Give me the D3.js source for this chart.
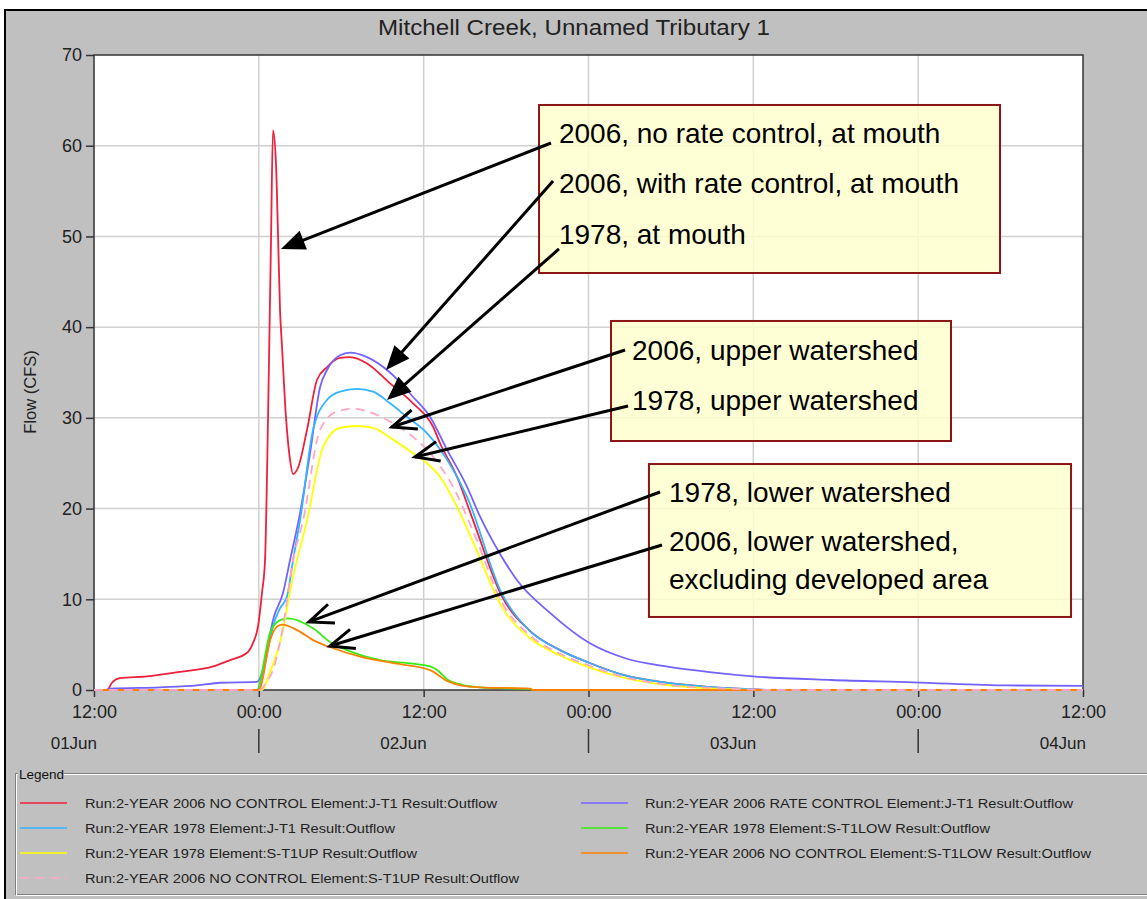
<!DOCTYPE html>
<html>
<head>
<meta charset="utf-8">
<script src="https://cdn.jsdelivr.net/npm/d3@7"></script>
<style>
  html, body { margin: 0; padding: 0; background: #ffffff; }
  svg { display: block; font-family: "Liberation Sans", Arial, sans-serif; }
</style>
</head>
<body>
<svg id="chart" width="1147" height="899"></svg>
<script>
// ---------------- DATA ----------------
// time axis: hours since 12:00 on 01Jun
const chartTitle = "Mitchell Creek, Unnamed Tributary 1";
const yAxisLabel = "Flow (CFS)";
const yTicks = [0, 10, 20, 30, 40, 50, 60, 70];
const xTickHours = [0, 12, 24, 36, 48, 60, 72];
const xTickLabels = ["12:00", "00:00", "12:00", "00:00", "12:00", "00:00", "12:00"];
const dayLabelHours = [0, 24, 48, 72];
const dayLabels = ["01Jun", "02Jun", "03Jun", "04Jun"];
const daySeparatorHours = [12, 36, 60];

const redHours   = [0, 0.95, 1.31, 1.89, 3.86, 6.26, 8.67, 9.90, 11.14, 11.58, 11.94, 12.23, 12.45, 12.67, 12.89, 13.03, 13.25, 13.40, 13.54, 13.69, 13.91, 14.27, 14.49, 14.85, 15.51, 16.24, 16.97, 17.91, 18.64, 19.88, 21.55, 23.23, 24.69, 25.19, 26.43, 27.60, 29.64, 31.75, 33.93, 36.04, 38.67, 41.65, 44.64, 47.62, 49.2, 72];
const redValues  = [0, 0, 0.8, 1.3, 1.5, 2.0, 2.6, 3.3, 4.1, 5.2, 7.0, 10.7, 14.3, 30, 50, 61.7, 58, 50, 42, 37.8, 31.6, 25.4, 23.8, 24.5, 28.7, 34.2, 35.6, 36.6, 36.7, 36.0, 33.8, 31.6, 29.0, 27.2, 23.5, 18.7, 10.5, 6.5, 4.4, 3.0, 1.6, 0.8, 0.35, 0.1, 0, 0];

const rateHours  = [0, 0.80, 1.17, 4.81, 7.50, 9.17, 11.87, 12.23, 12.67, 13.03, 13.76, 14.27, 15.0, 15.73, 16.46, 16.97, 17.91, 18.64, 19.88, 21.55, 23.23, 24.47, 25.70, 27.16, 28.11, 29.56, 30.80, 33.20, 36.04, 38.67, 41.65, 44.64, 47.99, 53.67, 59.64, 66.56, 72];
const rateValues = [0, 0, 0.15, 0.3, 0.5, 0.8, 0.9, 1.9, 5.0, 7.7, 10.7, 14.3, 19.5, 26.1, 33.4, 35.3, 36.9, 37.2, 36.7, 35.0, 32.3, 30.1, 26.5, 22.4, 19.1, 15.0, 12.1, 8.5, 5.2, 3.5, 2.6, 2.0, 1.5, 1.1, 0.85, 0.5, 0.45];

const cyanHours  = [0, 11.87, 12.23, 12.67, 13.03, 13.54, 14.05, 14.49, 15.0, 15.95, 16.97, 17.91, 19.15, 20.32, 21.55, 22.79, 24.25, 25.70, 27.16, 29.64, 31.75, 33.93, 36.04, 38.67, 41.65, 44.64, 48.5, 49.2, 72];
const cyanValues = [0, 0, 1.5, 4.5, 7.0, 9.0, 10.3, 14.3, 18.7, 28.7, 32.0, 32.9, 33.2, 32.9, 31.6, 30.1, 28.3, 25.4, 21.3, 10.8, 6.5, 4.4, 3.0, 1.6, 0.8, 0.35, 0.05, 0, 0];

const lowHours   = [0, 11.94, 12.23, 12.82, 13.54, 14.13, 15.95, 17.18, 18.42, 20.83, 23.23, 24.47, 24.98, 25.70, 26.87, 28.11, 29.56, 31.9];
const lowValues  = [0, 0, 2.0, 6.3, 7.7, 7.9, 6.8, 5.3, 4.4, 3.3, 2.9, 2.6, 2.2, 1.2, 0.55, 0.3, 0.2, 0.1];

const upHours    = [0, 12.23, 12.82, 13.54, 14.49, 15.51, 16.68, 17.91, 19.15, 20.32, 21.77, 23.23, 24.25, 25.19, 26.43, 27.74, 29.64, 31.75, 33.93, 36.04, 38.67, 41.65, 44.64, 47.0, 48.5, 72];
const upValues   = [0, 0, 2.0, 5.2, 12.5, 18.7, 26.8, 28.9, 29.1, 28.9, 27.6, 26.1, 25.0, 23.5, 20.2, 15.8, 9.3, 5.7, 3.8, 2.5, 1.3, 0.55, 0.2, 0.05, 0, 0];

const lowNcHours  = [0, 11.94, 12.09, 12.82, 13.33, 13.69, 14.78, 15.95, 17.40, 19.59, 22.06, 24.47, 25.70, 26.87, 28.11, 31.75, 31.9, 72];
const lowNcValues = [0, 0, 0.2, 5.5, 7.0, 7.2, 6.6, 5.5, 4.6, 3.6, 2.9, 2.2, 1.0, 0.45, 0.3, 0.15, 0, 0];

const upNcHours  = [0, 12.09, 12.52, 13.03, 13.76, 14.49, 15.22, 16.46, 17.69, 18.86, 20.32, 21.77, 23.23, 24.69, 26.14, 27.74, 29.64, 31.75, 33.93, 36.04, 38.67, 41.65, 44.64, 47.77, 49.2, 72];
const upNcValues = [0, 0, 0.8, 2.2, 7.0, 14.3, 18.7, 28.7, 30.7, 31.0, 30.5, 29.4, 27.9, 25.7, 22.4, 17.0, 9.8, 6.0, 4.0, 2.7, 1.4, 0.6, 0.25, 0.05, 0, 0];

const seriesNames = [
  "Run:2-YEAR 2006 NO CONTROL Element:J-T1 Result:Outflow",
  "Run:2-YEAR 2006 RATE CONTROL Element:J-T1 Result:Outflow",
  "Run:2-YEAR 1978 Element:J-T1 Result:Outflow",
  "Run:2-YEAR 1978 Element:S-T1LOW Result:Outflow",
  "Run:2-YEAR 1978 Element:S-T1UP Result:Outflow",
  "Run:2-YEAR 2006 NO CONTROL Element:S-T1LOW Result:Outflow",
  "Run:2-YEAR 2006 NO CONTROL Element:S-T1UP Result:Outflow"
];
const seriesColors = ["#f0203c", "#7462ff", "#33b4ff", "#33ee11", "#ffff00", "#ff8000", "#ffa6c4"];
const seriesDashed = [false, false, false, false, false, false, true];
const seriesHours  = [redHours, rateHours, cyanHours, lowHours, upHours, lowNcHours, upNcHours];
const seriesValues = [redValues, rateValues, cyanValues, lowValues, upValues, lowNcValues, upNcValues];
// legend layout order: left column then right column
const legendLeft  = [0, 2, 4, 6];
const legendRight = [1, 3, 5];

// annotation boxes (in data units: hours, cfs)
const boxHours0 = [32.40, 37.64, 40.40];
const boxHours1 = [65.96, 62.39, 71.13];
const boxValTop = [64.49, 40.68, 24.91];
const boxValBot = [45.97, 27.45, 8.05];
const noteTexts = ["2006, no rate control, at mouth", "2006, with rate control, at mouth", "1978, at mouth",
                   "2006, upper watershed", "1978, upper watershed",
                   "1978, lower watershed", "2006, lower watershed,", "excluding developed area"];
const noteHours = [33.85, 33.85, 33.85, 39.17, 39.17, 41.86, 41.86, 41.86];
const noteVals  = [60.30, 54.79, 49.17, 36.38, 30.87, 20.73, 15.32, 11.13];
// arrows: start (hours, cfs) -> tip (hours, cfs)
const arrowFromH = [33.27, 33.42, 33.85, 38.66, 38.88, 41.21, 41.35];
const arrowFromV = [60.30, 56.11, 48.62, 37.48, 31.31, 21.83, 15.99];
const arrowToH   = [13.61, 21.26, 21.33, 21.69, 23.37, 15.65, 17.18];
const arrowToV   = [48.62, 35.28, 31.97, 28.99, 25.69, 7.50, 4.85];
const arrowFilled = [true, true, true, false, false, false, false];

// ---------------- DRAW ----------------
const svg = d3.select("#chart");
const W = 1147, H = 899;
const plot = {left: 94, right: 1083, top: 55, bottom: 690};

const x = d3.scaleLinear().domain([0, 72]).range([plot.left, plot.right]);
const y = d3.scaleLinear().domain([0, 70]).range([plot.bottom, plot.top]);

// panel background
svg.append("rect").attr("x", 0).attr("y", 0).attr("width", W).attr("height", H).attr("fill", "#ffffff");
svg.append("rect").attr("x", 5).attr("y", 10).attr("width", W + 20).attr("height", H + 20)
  .attr("fill", "#c0c0c0").attr("stroke", "#000").attr("stroke-width", 2);

// title
svg.append("text").attr("x", 574).attr("y", 35).attr("text-anchor", "middle")
  .attr("font-size", 22).attr("fill", "#222")
  .attr("textLength", 392).attr("lengthAdjust", "spacingAndGlyphs")
  .text(chartTitle);

// plot area
svg.append("rect").attr("x", plot.left).attr("y", plot.top)
  .attr("width", plot.right - plot.left).attr("height", plot.bottom - plot.top).attr("fill", "#ffffff");

// grid
const grid = svg.append("g").attr("stroke", "#d0d0d0").attr("stroke-width", 1.5);
yTicks.filter(v => v > 0 && v < 70).forEach(v => {
  grid.append("line").attr("x1", plot.left).attr("x2", plot.right).attr("y1", y(v)).attr("y2", y(v));
});
xTickHours.filter(h => h > 0 && h < 72).forEach(h => {
  grid.append("line").attr("x1", x(h)).attr("x2", x(h)).attr("y1", plot.top).attr("y2", plot.bottom);
});

// frame
svg.append("rect").attr("x", plot.left).attr("y", plot.top)
  .attr("width", plot.right - plot.left).attr("height", plot.bottom - plot.top)
  .attr("fill", "none").attr("stroke", "#333").attr("stroke-width", 1.5);

// y axis
const yAxis = d3.axisLeft(y).tickValues(yTicks).tickSize(8).tickPadding(4).tickFormat(d3.format("d"));
const gy = svg.append("g").attr("transform", `translate(${plot.left},0)`).call(yAxis);
gy.select(".domain").remove();
gy.selectAll(".tick line").attr("stroke", "#333").attr("stroke-width", 1.5);
gy.selectAll(".tick text").attr("font-size", 18).attr("fill", "#222").attr("font-family", "Liberation Sans, Arial, sans-serif");

// x axis
const xAxis = d3.axisBottom(x).tickValues(xTickHours).tickSize(7).tickPadding(8)
  .tickFormat((d, i) => xTickLabels[i]);
const gx = svg.append("g").attr("transform", `translate(0,${plot.bottom})`).call(xAxis);
gx.select(".domain").remove();
gx.selectAll(".tick line").attr("stroke", "#333").attr("stroke-width", 1.5);
gx.selectAll(".tick text").attr("font-size", 18).attr("fill", "#222").attr("font-family", "Liberation Sans, Arial, sans-serif");

// day labels & separators
dayLabels.forEach((lab, i) => {
  svg.append("text").attr("x", x(dayLabelHours[i]) + 3).attr("y", 749)
    .attr("text-anchor", "end").attr("font-size", 17).attr("fill", "#222").text(lab);
});
daySeparatorHours.forEach(h => {
  svg.append("line").attr("x1", x(h)).attr("x2", x(h)).attr("y1", 729).attr("y2", 753)
    .attr("stroke", "#333").attr("stroke-width", 1.5);
});

// y axis title
svg.append("text").attr("transform", "translate(36,392) rotate(-90)")
  .attr("text-anchor", "middle").attr("font-size", 16.5).attr("fill", "#222").text(yAxisLabel);

// series
const line = d3.line().x(d => x(d[0])).y(d => y(d[1])).curve(d3.curveMonotoneX);
const seriesG = svg.append("g");
seriesNames.forEach((name, i) => {
  const pts = seriesHours[i].map((h, k) => [h, seriesValues[i][k]]);
  seriesG.append("path").datum(pts).attr("d", line)
    .attr("fill", "none").attr("stroke", seriesColors[i]).attr("stroke-width", 1.8)
    .attr("stroke-linejoin", "round")
    .attr("stroke-dasharray", seriesDashed[i] ? "9,6" : null);
});

// annotation boxes
boxHours0.forEach((h0, i) => {
  svg.append("rect").attr("x", x(h0)).attr("y", y(boxValTop[i]))
    .attr("width", x(boxHours1[i]) - x(h0)).attr("height", y(boxValBot[i]) - y(boxValTop[i]))
    .attr("fill", "#ffffcc").attr("fill-opacity", 0.82)
    .attr("stroke", "#8b1414").attr("stroke-width", 2);
});
noteTexts.forEach((t, i) => {
  svg.append("text").attr("x", x(noteHours[i])).attr("y", y(noteVals[i]))
    .attr("font-size", 28).attr("fill", "#000").text(t);
});

// arrows
arrowFromH.forEach((fh, i) => {
  const x0 = x(fh), y0 = y(arrowFromV[i]);
  const x1 = x(arrowToH[i]), y1 = y(arrowToV[i]);
  const dx = x1 - x0, dy = y1 - y0, len = Math.hypot(dx, dy);
  const ux = dx / len, uy = dy / len, px = -uy, py = ux;
  const L = 24, Wd = 10;
  const bx = x1 - ux * L, by = y1 - uy * L;
  const g = svg.append("g");
  if (arrowFilled[i]) {
    g.append("line").attr("x1", x0).attr("y1", y0).attr("x2", bx + ux * 4).attr("y2", by + uy * 4)
      .attr("stroke", "#000").attr("stroke-width", 3);
    g.append("polygon").attr("points",
      [[x1, y1], [bx + px * Wd, by + py * Wd], [bx - px * Wd, by - py * Wd]].map(p => p.join(",")).join(" "))
      .attr("fill", "#000");
  } else {
    g.append("line").attr("x1", x0).attr("y1", y0).attr("x2", x1).attr("y2", y1)
      .attr("stroke", "#000").attr("stroke-width", 3);
    g.append("polyline").attr("points",
      [[bx + px * Wd, by + py * Wd], [x1, y1], [bx - px * Wd, by - py * Wd]].map(p => p.join(",")).join(" "))
      .attr("fill", "none").attr("stroke", "#000").attr("stroke-width", 3).attr("stroke-linejoin", "miter");
  }
});

// legend group box
const lg = svg.append("g");
lg.append("rect").attr("x", 15.5).attr("y", 773.5).attr("width", 1160).attr("height", 121)
  .attr("fill", "none").attr("stroke", "#808080");
lg.append("rect").attr("x", 16.5).attr("y", 774.5).attr("width", 1160).attr("height", 121)
  .attr("fill", "none").attr("stroke", "#ffffff");
lg.append("rect").attr("x", 18).attr("y", 766).attr("width", 46).attr("height", 16).attr("fill", "#c0c0c0");
lg.append("text").attr("x", 19).attr("y", 779).attr("font-size", 13.5).attr("fill", "#111").text("Legend");

const legendRowY = [803, 828, 853, 878];
const legendTextW = [412, 428, 310, 345, 332, 446, 434];
function legendItem(idx, row, lx0, tx) {
  const yy = legendRowY[row];
  lg.append("line").attr("x1", lx0).attr("x2", lx0 + 47).attr("y1", yy).attr("y2", yy)
    .attr("stroke", seriesColors[idx]).attr("stroke-width", 1.5)
    .attr("stroke-dasharray", seriesDashed[idx] ? "9,6" : null);
  lg.append("text").attr("x", tx).attr("y", yy + 4.5).attr("font-size", 12.5).attr("fill", "#222")
    .attr("textLength", legendTextW[idx]).attr("lengthAdjust", "spacingAndGlyphs")
    .text(seriesNames[idx]);
}
legendLeft.forEach((idx, r) => legendItem(idx, r, 20, 85));
legendRight.forEach((idx, r) => legendItem(idx, r, 581, 645));
</script>
</body>
</html>
